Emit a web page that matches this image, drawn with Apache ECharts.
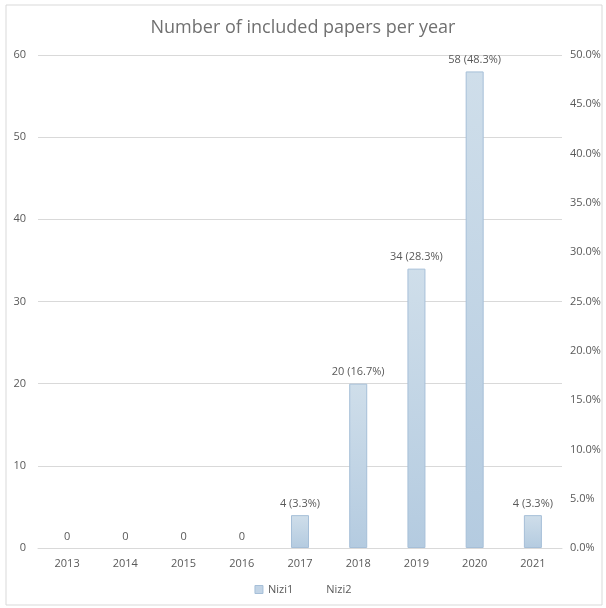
<!DOCTYPE html>
<html lang="en">
<head>
    <meta charset="UTF-8">
    <title>Number of included papers per year</title>
    <script src="https://cdn.jsdelivr.net/npm/echarts@6/dist/echarts.min.js"></script>
    <style>
        html, body { margin: 0; padding: 0; background: #fff; }
        #charts { width: 606px; height: 608px; }
    </style>
</head>
<body>
    <div id="charts"></div>
    <script type="text/javascript">
        var years = ['2013', '2014', '2015', '2016', '2017', '2018', '2019', '2020', '2021'];
        var papers = [0, 0, 0, 0, 4, 20, 34, 58, 4];
        var shares = [0, 0, 0, 0, 3.3, 16.7, 28.3, 48.3, 3.3];
        var leftTicks = [0, 10, 20, 30, 40, 50, 60];
        var rightTicks = [0, 5, 10, 15, 20, 25, 30, 35, 40, 45, 50];

        var grey = '#595959';
        var font = '"Open Sans", "Noto Sans", sans-serif';

        // zero-height bars get no outline, like the original
        var barData = papers.map(function (v) {
            return v === 0 ? { value: v, itemStyle: { borderWidth: 0 } } : v;
        });

        var myChart = echarts.init(document.getElementById('charts'));
        var option = {
            animation: false,
            textStyle: { fontFamily: font },
            title: {
                text: 'Number of included papers per year',
                left: 'center',
                top: 14,
                textStyle: { fontSize: 18, fontWeight: 'normal', color: '#707070', fontFamily: font }
            },
            graphic: [{
                type: 'rect',
                shape: { x: 6, y: 5, width: 596, height: 600 },
                style: { fill: 'none', stroke: '#d9d9d9', lineWidth: 1 }
            }],
            legend: {
                bottom: 8,
                left: 'center',
                itemWidth: 8,
                itemHeight: 8,
                itemGap: 20,
                textStyle: { color: grey, fontSize: 11 },
                data: [
                    { name: 'Nizi1', icon: 'rect', itemStyle: { color: '#c2d4e6', borderColor: '#a6bfd8', borderWidth: 1 } },
                    { name: 'Nizi2', icon: 'none' }
                ]
            },
            grid: { left: 38, right: 44, top: 55, bottom: 60 },
            xAxis: {
                type: 'category',
                data: years,
                axisLine: { lineStyle: { color: '#d9d9d9' } },
                axisTick: { show: false },
                axisLabel: { color: grey, fontSize: 11, margin: 10 }
            },
            yAxis: [{
                type: 'value',
                min: leftTicks[0],
                max: leftTicks[leftTicks.length - 1],
                interval: 10,
                axisLine: { show: false },
                axisTick: { show: false },
                axisLabel: { color: grey, fontSize: 11, margin: 12 },
                splitLine: { lineStyle: { color: '#d9d9d9' } }
            }, {
                type: 'value',
                min: rightTicks[0],
                max: rightTicks[rightTicks.length - 1],
                interval: 5,
                axisLine: { show: false },
                axisTick: { show: false },
                splitLine: { show: false },
                axisLabel: {
                    color: grey, fontSize: 11, margin: 8,
                    formatter: function (v) { return v.toFixed(1) + '%'; }
                }
            }],
            series: [{
                name: 'Nizi1',
                type: 'bar',
                barWidth: 18,
                data: barData,
                itemStyle: {
                    borderColor: '#a6bfd8',
                    borderWidth: 1,
                    color: new echarts.graphic.LinearGradient(0, 0, 0, 1, [
                        { offset: 0, color: '#cfdeea' },
                        { offset: 1, color: '#b4cbe0' }
                    ])
                },
                label: {
                    show: true,
                    position: 'top',
                    distance: 6,
                    color: grey,
                    fontSize: 11,
                    formatter: function (p) {
                        if (p.value === 0) return '0';
                        return p.value + ' (' + shares[p.dataIndex].toFixed(1) + '%)';
                    }
                }
            }, {
                name: 'Nizi2',
                type: 'line',
                yAxisIndex: 1,
                data: shares,
                symbol: 'none',
                lineStyle: { opacity: 0 },
                itemStyle: { opacity: 0 },
                silent: true
            }]
        };
        myChart.setOption(option);
    </script>
</body>
</html>
